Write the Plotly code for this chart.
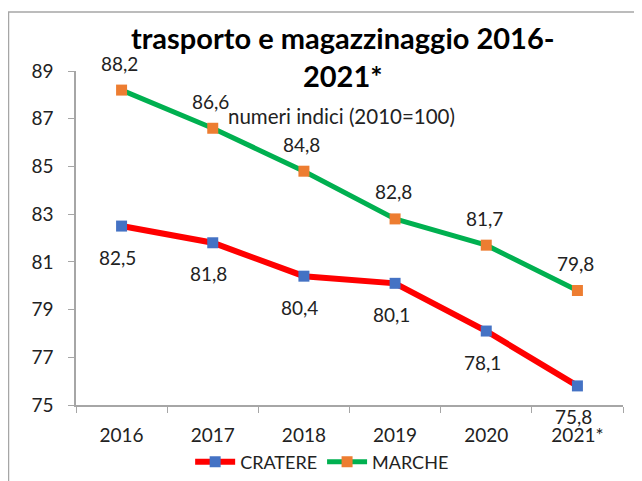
import plotly.graph_objects as go

years = ["2016", "2017", "2018", "2019", "2020", "2021*"]
cratere = [82.5, 81.8, 80.4, 80.1, 78.1, 75.8]
marche = [88.2, 86.6, 84.8, 82.8, 81.7, 79.8]
title_text = "trasporto e magazzinaggio 2016-<br>2021*"
subtitle_text = "numeri indici (2010=100)"
y_ticks = [75, 77, 79, 81, 83, 85, 87, 89]

FONT = "Lato, 'Open Sans', sans-serif"
TXT = "#222222"

fig = go.Figure()
fig.add_trace(go.Scatter(
    x=years, y=cratere, name="CRATERE", mode="lines+markers",
    line=dict(color="#FF0000", width=6),
    marker=dict(symbol="square", size=11, color="#4472C4"),
))
fig.add_trace(go.Scatter(
    x=years, y=marche, name="MARCHE", mode="lines+markers",
    line=dict(color="#00B050", width=5),
    marker=dict(symbol="square", size=11, color="#ED7D31"),
))

def fmt(v):
    return f"{v:.1f}".replace(".", ",")

annotations = []
for i, yv in enumerate(marche):
    annotations.append(dict(x=i, y=yv, xref="x", yref="y", text=fmt(yv), showarrow=False,
                            yshift=27, xshift=-2, font=dict(size=19, color=TXT, family=FONT)))
for i, yv in enumerate(cratere):
    annotations.append(dict(x=i, y=yv, xref="x", yref="y", text=fmt(yv), showarrow=False,
                            yshift=-31, xshift=-4, font=dict(size=19, color=TXT, family=FONT)))
annotations.append(dict(xref="paper", yref="paper", x=0.4845, y=0.865, text=subtitle_text,
                        showarrow=False, xanchor="center", yanchor="middle",
                        font=dict(size=20.5, color=TXT, family=FONT)))

shapes = [dict(type="rect", xref="paper", yref="paper", x0=-0.1234, x1=1.3, y0=-0.6, y1=1.177,
               line=dict(color="#A6A6A6", width=1.5), fillcolor="rgba(0,0,0,0)", layer="below")]

fig.update_layout(
    width=634, height=473,
    margin=dict(l=68, r=19, t=63, b=76, autoexpand=False),
    paper_bgcolor="white", plot_bgcolor="white",
    font=dict(family=FONT, color=TXT),
    title=dict(text="<b>" + title_text + "</b>", x=0.528, xanchor="center", y=0.913, yanchor="top",
               font=dict(size=29, color="black", family=FONT)),
    xaxis=dict(type="category", showgrid=False, showline=True, linecolor="#A6A6A6", linewidth=1.5,
               ticks="outside", tickson="boundaries", ticklen=6, tickcolor="#A6A6A6",
               tickfont=dict(size=19, color=TXT), ticklabelstandoff=12, range=[-0.5, 5.5],
               automargin=False),
    yaxis=dict(range=[75, 89], tickvals=y_ticks, showgrid=False, zeroline=False,
               showline=True, linecolor="#A6A6A6", linewidth=1.5, ticks="outside", ticklen=6,
               tickcolor="#A6A6A6", tickfont=dict(size=19, color=TXT), ticklabelstandoff=11,
               automargin=False),
    legend=dict(orientation="h", x=0.45, xanchor="center", yref="container", y=0.040,
                yanchor="middle", font=dict(size=18, color=TXT), itemwidth=40),
    showlegend=True,
    annotations=annotations,
    shapes=shapes,
)

fig.write_html("out.html")
